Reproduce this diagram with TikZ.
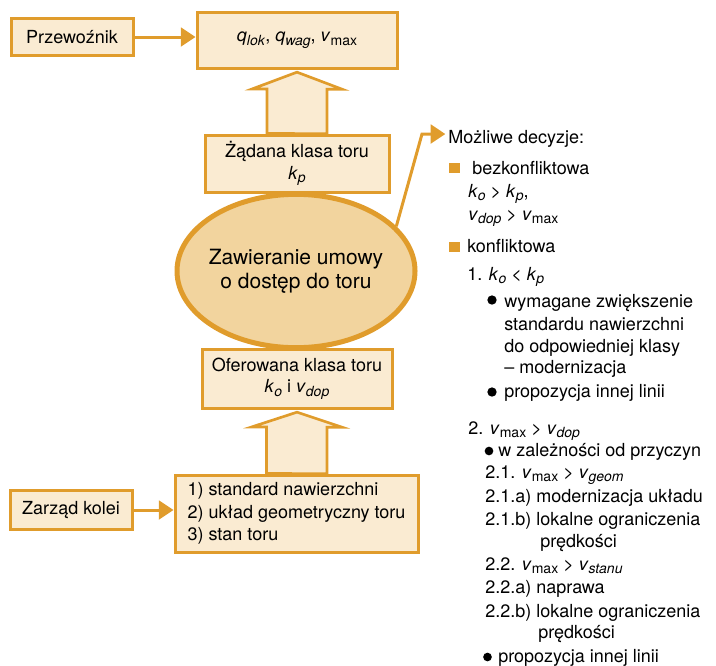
\documentclass[tikz,border=0pt]{standalone}
\usepackage{fontspec}
\setmainfont{TeX Gyre Heros}
\usetikzlibrary{shapes.geometric,arrows.meta}
\definecolor{lineor}{HTML}{E09C2C}
\definecolor{boxfill}{HTML}{FAEBD2}
\definecolor{ellfill}{HTML}{F2D49E}
\newcommand{\lowsub}[1]{\raisebox{-0.2em}{\fontsize{10.5}{10}\selectfont #1}}
\newcommand{\iv}[2]{\textit{#1}\lowsub{\textit{#2}}}
\newcommand{\vmx}{\textit{v}\lowsub{max}}
\begin{document}
\begin{tikzpicture}[x=0.75pt, y=-0.75pt,
  box/.style={draw=lineor, fill=boxfill, line width=2.25pt, align=center, inner sep=0pt, font=\fontsize{13.5}{16}\selectfont},
  ell/.style={ellipse, draw=lineor, fill=ellfill, line width=3.75pt, minimum width=178.5pt, minimum height=115pt, inner xsep=-4pt, inner ysep=0pt, align=center, font=\fontsize{15.75}{18}\selectfont},
  hollow/.style={draw=lineor, fill=boxfill, line width=2pt},
  conn/.style={draw=lineor, line width=2.25pt, -{Triangle[length=11pt,width=14pt]}},
  dtxt/.style={anchor=base west, inner sep=0pt, font=\fontsize{13.5}{16}\selectfont}]
  \useasboundingbox (0,0) rectangle (716,665);

  % Central negotiation
  \node[ell] (ell) at (296,271) {Zawieranie umowy\\o dostęp do toru};

  % Boxes on the left
  \node[box, minimum width=91.5pt, minimum height=27.75pt] (prz) at (72,37) {Przewoźnik};
  \node[box, minimum width=150pt, minimum height=42pt] (q) at (297,40) {\iv{q}{lok}, \iv{q}{wag}, \vmx};
  \node[box, minimum width=138pt, minimum height=42.75pt] (zad) at (297,163.5) {Żądana klasa toru\\\iv{k}{p}};
  \node[box, minimum width=142.5pt, minimum height=44.25pt] (ofe) at (297,378.5) {Oferowana klasa toru\\\iv{k}{o} i \iv{v}{dop}};
  \node[box, minimum width=182.25pt, minimum height=57.75pt, align=left, font=\fontsize{13.5}{17}\selectfont] (par) at (296.5,513.5) {1) standard nawierzchni\\2) układ geometryczny toru\\3) stan toru};
  \node[box, minimum width=91.5pt, minimum height=29pt] (zar) at (71,510) {Zarząd kolei};

  % Hollow arrows
  \draw[hollow] (zad.north) ++(-30,0) -- ++(0,-44.5) -- ++(-15,0) -- ([yshift=-2pt]q.south) -- ++(45,17) -- ++(-15,0) -- ++(0,44.5) -- cycle;
  \draw[hollow] (par.north) ++(-30,0) -- ++(0,-46.5) -- ++(-15,0) -- ([yshift=-2pt]ofe.south) -- ++(45,15) -- ++(-15,0) -- ++(0,46.5) -- cycle;

  % Arrows
  \draw[conn] (prz.east) -- (prz.east -| q.west);
  \draw[conn] (zar.east) -- (zar.east -| par.west);

  % Possible decisions
  \node[dtxt] (dec) at (448,143) {Możliwe decyzje:};
  \coordinate (c1) at (422,134);
  \draw[conn, shorten >=2pt] (ell.24) -- (c1) -- (c1 -| dec.west);

  \fill[lineor] (449,163) rectangle (460,173);
  \node[dtxt] (d1) at (472,174) {bezkonfliktowa};
  \node[dtxt] (d2) at (468,197) {\iv{k}{o} > \iv{k}{p},};
  \node[dtxt] (d3) at (468,220) {\iv{v}{dop} > \vmx};
  \fill[lineor] (449,242) rectangle (460,252);
  \node[dtxt] (d4) at (467,252) {konfliktowa};
  \node[dtxt] (d5) at (467,280) {1. \iv{k}{o} < \iv{k}{p}};
  \fill (492,300) circle[radius=3.5pt];
  \node[dtxt] (d6) at (504,307) {wymagane zwiększenie};
  \node[dtxt] (d7) at (504,330) {standardu nawierzchni};
  \node[dtxt] (d8) at (504,352) {do odpowiedniej klasy};
  \node[dtxt] (d9) at (504,373) {– modernizacja};
  \fill (492,392) circle[radius=3.5pt];
  \node[dtxt] (d10) at (504,397) {propozycja innej linii};

  \node[dtxt] (d11) at (468,434) {2. \vmx{} > \iv{v}{dop}};
  \fill (489,451) circle[radius=3.25pt];
  \node[dtxt] (d12) at (498,456) {w zależności od przyczyn};
  \node[dtxt] (d13) at (485,478) {2.1. \vmx{} > \iv{v}{geom}};
  \node[dtxt] (d14) at (485,502) {2.1.a) modernizacja układu};
  \node[dtxt] (d15) at (485,525) {2.1.b) lokalne ograniczenia};
  \node[dtxt] (d16) at (540,547) {prędkości};
  \node[dtxt] (d17) at (485,570) {2.2. \vmx{} > \iv{v}{stanu}};
  \node[dtxt] (d18) at (485,593) {2.2.a) naprawa};
  \node[dtxt] (d19) at (485,617) {2.2.b) lokalne ograniczenia};
  \node[dtxt] (d20) at (538,638) {prędkości};
  \fill (487.5,657) circle[radius=3.25pt];
  \node[dtxt] (d21) at (498,662) {propozycja innej linii};

\end{tikzpicture}
\end{document}
